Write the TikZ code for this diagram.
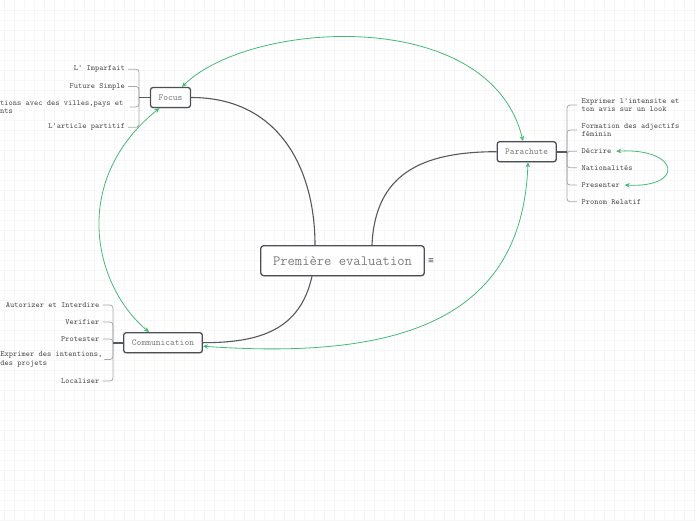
\documentclass[tikz,border=0pt]{standalone}
\usepackage{fontspec}
\newfontfamily\symfont{DejaVu Sans Mono}
\usetikzlibrary{arrows.meta,shadows}
\definecolor{gridc}{RGB}{247,247,247}
\definecolor{linec}{RGB}{85,88,92}
\definecolor{brkc}{RGB}{165,168,172}
\definecolor{grn}{RGB}{70,185,120}
\definecolor{txt}{RGB}{80,80,80}
\definecolor{ntxt}{RGB}{125,125,125}
\definecolor{bord}{RGB}{75,80,86}
\begin{document}
\begin{tikzpicture}[x=1pt,y=-1pt,
  topic/.style={draw=bord, line width=1.3pt, rounded corners=2.5pt, fill=white,
    minimum height=20pt, inner sep=0pt, text=ntxt,
    font=\ttfamily\fontsize{9.1}{10}\selectfont,
    drop shadow={shadow xshift=0.4pt, shadow yshift=-1pt, opacity=0.25}},
  mainbox/.style={topic, minimum height=30pt, minimum width=163.6pt, rounded corners=3pt,
    font=\ttfamily\fontsize{14.2}{16}\selectfont},
  leaf/.style={font=\ttfamily\fontsize{8}{8.3}\selectfont, text=txt, inner xsep=3pt, inner ysep=1pt, align=left},
  rleaf/.style={leaf, inner xsep=4.5pt},
  brkline/.style={draw=brkc, line width=0.8pt, rounded corners=3pt},
  stem/.style={draw=linec, line width=1.8pt},
  conn/.style={draw=linec, line width=1.1pt},
  gr/.style={draw=grn, line width=0.8pt, {Stealth[length=5pt,width=4.5pt,inset=1.5pt]}-{Stealth[length=5pt,width=4.5pt,inset=1.5pt]}}
]
\useasboundingbox (0,0) rectangle (696,520);
\clip (0,0) rectangle (696,520);
\fill[white] (0,0) rectangle (696,520);
\foreach \i in {0,...,69} {\draw[gridc, line width=0.8pt] (4.8+10*\i,0) -- ++(0,520);}
\foreach \j in {1,...,52} {\draw[gridc, line width=0.8pt] (0,10*\j) -- ++(696,0);}

% topics
\node[mainbox] (main) at (342.5,260.7) {Première evaluation};
\node[topic, minimum width=40pt] (focus) at (170.5,97.5) {Focus};
\node[topic, minimum width=59pt] (para) at (526.7,151.7) {Parachute};
\node[topic, minimum width=78.6pt] (comm) at (163,342.7) {Communication};
\node[font=\symfont\fontsize{9}{9}\selectfont, text=linec, inner sep=0pt] (menu) at (431,260.7) {≡};

% Focus leaves
\node[leaf, anchor=east] (f1) at (128,69.2) {L' Imparfait};
\node[leaf, anchor=east] (f2) at (128,86.5) {Future Simple};
\node[leaf, anchor=west] (f3) at (-3,107) {tions avec des villes,pays et\\nts};
\node[leaf, anchor=east] (f4) at (128,127.3) {L'article partitif};
\coordinate (fj) at (139,97.5);
\draw[brkline] (f1.east) -| (fj);
\draw[brkline] (f2.east) -| (fj);
\draw[brkline] ([xshift=3.2pt]f3.east) -| (fj);
\draw[brkline] (f4.east) -| (fj);
\draw[stem] (focus.west) -- (fj);

% Parachute leaves
\node[rleaf, anchor=west] (p1) at (577,105) {Exprimer l'intensite et\\ton avis sur un look};
\node[rleaf, anchor=west] (p2) at (577,130) {Formation des adjectifs\\féminin};
\node[rleaf, anchor=west] (p3) at (577,151.2) {Décrire};
\node[rleaf, anchor=west] (p4) at (577,167.7) {Nationalités};
\node[rleaf, anchor=west] (p5) at (577,185) {Presenter};
\node[rleaf, anchor=west] (p6) at (577,201.7) {Pronom Relatif};
\coordinate (pj) at (567,151.7);
\foreach \p in {p1,p2,p3,p4,p5,p6} {\draw[brkline] (pj) |- (\p.west);}
\draw[stem] (para.east) -- (pj);

% Communication leaves
\node[leaf, anchor=east] (c1) at (102.5,305) {Autorizer et Interdire};
\node[leaf, anchor=east] (c2) at (102.5,322) {Verifier};
\node[leaf, anchor=east] (c3) at (102.5,339) {Protester};
\node[leaf, anchor=west, inner xsep=0.3pt] (c4) at (0,359.5) {Exprimer des intentions,\\des projets};
\node[leaf, anchor=east] (c5) at (102.5,381) {Localiser};
\coordinate (cj) at (113,342.7);
\foreach \c in {c1,c2,c3,c5} {\draw[brkline] (\c.east) -| (cj);}
\draw[brkline] ([xshift=1.5pt]c4.east) -| (cj);
\draw[stem] (comm.west) -- (cj);

% main connectors
\draw[conn] (focus.east) .. controls (280,97.5) and (315,170) .. ([xshift=-27.5pt]main.north);
\draw[conn] ([xshift=29.5pt]main.north) .. controls (375,175) and (420,151.7) .. (para.west);
\draw[conn] ([xshift=-30.5pt]main.south) .. controls (300,330) and (260,342.7) .. (comm.east);

% green relations
\draw[gr] ([xshift=11.5pt]focus.north) .. controls (250,20) and (490,5) .. ([xshift=-3.7pt]para.north);
\draw[gr] ([xshift=-11pt]focus.south) .. controls (70,180) and (93,285) .. ([xshift=-14pt]comm.north);
\draw[gr] ([yshift=-3.5pt]comm.east) .. controls (400,360) and (522,320) .. ([xshift=1.3pt]para.south);
\draw[gr] (p3.east) .. controls (680,148) and (685,188) .. (p5.east);
\end{tikzpicture}
\end{document}
